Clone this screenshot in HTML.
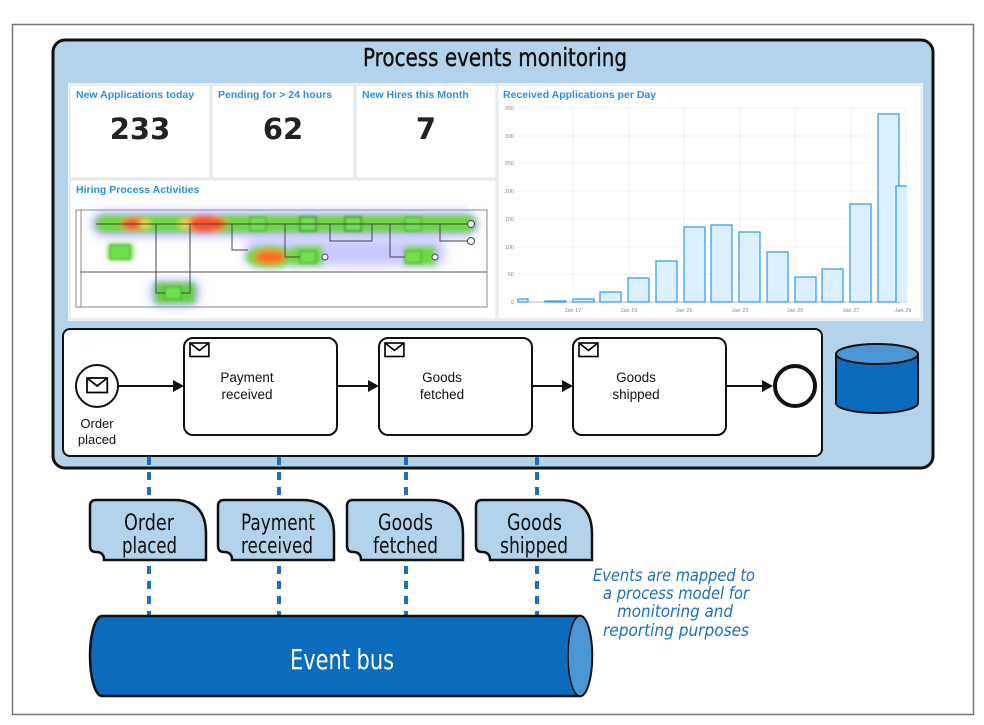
<!DOCTYPE html>
<html><head><meta charset="utf-8"><style>
body{margin:0;background:#fff;}
svg{display:block;font-family:"Liberation Sans",sans-serif;}
</style></head><body>
<svg width="984" height="725" viewBox="0 0 984 725" xmlns="http://www.w3.org/2000/svg">
<defs>
<filter id="b1" x="-50%" y="-50%" width="200%" height="200%"><feGaussianBlur stdDeviation="3"/></filter>
<filter id="b3" x="-50%" y="-50%" width="200%" height="200%"><feGaussianBlur stdDeviation="5"/></filter>
<filter id="b2" x="-50%" y="-50%" width="200%" height="200%"><feGaussianBlur stdDeviation="1"/></filter>
<g id="env"><rect x="0" y="0" width="14" height="10" fill="#fff" stroke="#000" stroke-width="1.2"/><path d="M0 0 L7 5.5 L14 0" fill="none" stroke="#000" stroke-width="1.2"/></g>
<path id="ev" d="M6 0 H84 Q116 0 116 34 V60 H14 Q14 52 6 52 Q0 52 0 46 V6 Q0 0 6 0 Z"/>
</defs>
<rect x="12.5" y="24.5" width="961" height="690" fill="#fff" stroke="#777" stroke-width="1.5"/>
<rect x="53" y="40" width="880" height="428" rx="12" fill="#b2d3ea" stroke="#111" stroke-width="3"/>
<text x="363" y="66" font-size="25" fill="#111" stroke="#111" stroke-width="0.4" textLength="264" lengthAdjust="spacingAndGlyphs" style="font-family:'DejaVu Sans','Liberation Sans',sans-serif">Process events monitoring</text>
<rect x="68" y="83" width="855" height="238" fill="#eef2f5"/>
<g fill="#fff" stroke="#e3e6ea">
<rect x="70" y="85" width="140" height="93"/>
<rect x="212" y="85" width="142" height="93"/>
<rect x="356" y="85" width="140" height="93"/>
<rect x="70" y="180" width="426" height="139"/>
<rect x="498" y="85" width="423" height="234"/>
</g>
<g fill="#2a8fe0" font-size="10.5" font-weight="bold">
<text x="76" y="98">New Applications today</text>
<text x="218" y="98">Pending for &gt; 24 hours</text>
<text x="362" y="98">New Hires this Month</text>
<text x="76" y="193">Hiring Process Activities</text>
<text x="503" y="98">Received Applications per Day</text>
</g>
<g fill="#222" font-size="29" font-weight="bold" text-anchor="middle" style="font-family:'DejaVu Sans','Liberation Sans',sans-serif">
<text x="140" y="139">233</text><text x="283" y="139">62</text><text x="426" y="139">7</text>
</g>
<rect x="76" y="210" width="411" height="97" fill="#fff" stroke="#888"/>
<line x1="80" y1="272" x2="487" y2="272" stroke="#555"/>
<line x1="81" y1="210" x2="81" y2="307" stroke="#888"/>
<g filter="url(#b3)">
<rect x="92" y="212" width="385" height="24" rx="12" fill="#9090ff" opacity="0.7"/>
<rect x="245" y="240" width="200" height="26" rx="10" fill="#9090ff" opacity="0.5"/>
<rect x="150" y="280" width="50" height="26" rx="10" fill="#9090ff" opacity="0.6"/>
</g>
<g filter="url(#b1)">
<rect x="96" y="216" width="380" height="16" rx="8" fill="#6dd83a"/>
<ellipse cx="135" cy="224" rx="14" ry="6" fill="#ff5020"/>
<ellipse cx="205" cy="224" rx="22" ry="8" fill="#ff5020"/>
<ellipse cx="145" cy="224" rx="6" ry="4" fill="#f8e040"/>
<ellipse cx="185" cy="224" rx="6" ry="4" fill="#f8e040"/>
<ellipse cx="270" cy="257" rx="24" ry="11" fill="#6dd83a"/>
<ellipse cx="270" cy="257" rx="16" ry="7" fill="#ff6a28"/>
<rect x="108" y="244" width="25" height="16" fill="#6dd83a"/>
<rect x="155" y="283" width="40" height="20" fill="#60d040"/>
<rect x="405" y="247" width="30" height="18" fill="#6dd83a"/>
<rect x="292" y="247" width="30" height="18" fill="#6dd83a"/>
</g>
<g filter="url(#b2)" fill="#6ee04a" stroke="#334">
<rect x="250" y="217" width="16" height="14" stroke-width="0.5"/>
<rect x="300" y="217" width="16" height="14" stroke-width="1"/>
<rect x="345" y="217" width="16" height="14" stroke-width="1"/>
<rect x="405" y="217" width="16" height="14" stroke-width="0.5"/>
<rect x="110" y="245" width="20" height="14" stroke-width="0.5"/>
<rect x="300" y="251" width="16" height="12" stroke-width="0.5"/>
<rect x="405" y="251" width="16" height="12" stroke-width="0.5"/>
<rect x="165" y="287" width="16" height="12" stroke-width="0.5"/>
</g>
<g fill="none" stroke="#445" stroke-width="1">
<path d="M156 224 V293 H165 M181 293 H190 V224"/>
<path d="M232 224 V250 H248"/>
<path d="M285 224 V257 H300 M330 224 V241 H372 V224 M390 224 V257 H405 M440 224 V241 H470"/>
<line x1="96" y1="224" x2="470" y2="224"/>
<circle cx="471" cy="224" r="3.5" fill="#fff"/><circle cx="471" cy="241" r="3.5" fill="#fff"/>
<circle cx="435" cy="257" r="3" fill="#fff"/><circle cx="325" cy="257" r="3" fill="#fff"/>
</g>
<g stroke="#eceff2" stroke-width="1">
<line x1="518" y1="108" x2="907" y2="108"/><line x1="518" y1="136" x2="907" y2="136"/><line x1="518" y1="163" x2="907" y2="163"/><line x1="518" y1="191" x2="907" y2="191"/><line x1="518" y1="219" x2="907" y2="219"/><line x1="518" y1="247" x2="907" y2="247"/><line x1="518" y1="274" x2="907" y2="274"/>
<line x1="573" y1="108" x2="573" y2="302"/><line x1="629" y1="108" x2="629" y2="302"/><line x1="684" y1="108" x2="684" y2="302"/><line x1="740" y1="108" x2="740" y2="302"/><line x1="795" y1="108" x2="795" y2="302"/><line x1="851" y1="108" x2="851" y2="302"/><line x1="906" y1="108" x2="906" y2="302"/>
</g>
<line x1="518" y1="302" x2="907" y2="302" stroke="#bbb"/>
<g fill="#888" font-size="5.5" text-anchor="end">
<text x="514" y="110">350</text><text x="514" y="138">300</text><text x="514" y="165">250</text><text x="514" y="193">200</text><text x="514" y="221">150</text><text x="514" y="249">100</text><text x="514" y="276">50</text><text x="514" y="304">0</text>
</g>
<g fill="#888" font-size="5.5" text-anchor="middle">
<text x="573" y="312">Jan 17</text><text x="629" y="312">Jan 19</text><text x="684" y="312">Jan 21</text><text x="740" y="312">Jan 23</text><text x="795" y="312">Jan 25</text><text x="851" y="312">Jan 27</text><text x="903" y="312">Jan 29</text>
</g>
<g fill="#dcefff" stroke="#3aa0ec" stroke-width="1.3">
<rect x="518" y="299" width="10" height="3"/>
<rect x="545" y="301" width="21" height="1"/>
<rect x="573" y="299" width="21" height="3"/>
<rect x="600" y="292" width="21" height="10"/>
<rect x="628" y="278" width="21" height="24"/>
<rect x="656" y="261" width="21" height="41"/>
<rect x="684" y="227" width="21" height="75"/>
<rect x="711" y="225" width="21" height="77"/>
<rect x="739" y="232" width="21" height="70"/>
<rect x="767" y="252" width="21" height="50"/>
<rect x="795" y="277" width="21" height="25"/>
<rect x="822" y="269" width="21" height="33"/>
<rect x="850" y="204" width="21" height="98"/>
<rect x="878" y="114" width="21" height="188"/>
<rect x="896" y="186" width="11" height="116" stroke="none"/><path d="M896 302 V186 H907"/>
</g>
<rect x="63" y="329" width="759" height="127" rx="7" fill="#fff" stroke="#111" stroke-width="2"/>
<circle cx="97" cy="386" r="21" fill="#fff" stroke="#111" stroke-width="2"/>
<use href="#env" transform="translate(87,378) scale(1.45)"/>
<g font-size="13" fill="#111" text-anchor="middle">
<text x="97" y="428">Order</text><text x="97" y="444">placed</text>
</g>
<g fill="#fff" stroke="#111" stroke-width="2">
<rect x="184" y="338" width="153" height="97" rx="9"/>
<rect x="379" y="338" width="153" height="97" rx="9"/>
<rect x="573" y="338" width="153" height="97" rx="9"/>
</g>
<use href="#env" transform="translate(190,343) scale(1.35)"/>
<use href="#env" transform="translate(385,343) scale(1.35)"/>
<use href="#env" transform="translate(579,343) scale(1.35)"/>
<g font-size="13.5" fill="#111" text-anchor="middle">
<text x="247" y="382">Payment</text><text x="247" y="399">received</text>
<text x="442" y="382">Goods</text><text x="442" y="399">fetched</text>
<text x="636" y="382">Goods</text><text x="636" y="399">shipped</text>
</g>
<g stroke="#111" stroke-width="2">
<line x1="118" y1="386" x2="176" y2="386"/><line x1="337" y1="386" x2="371" y2="386"/><line x1="532" y1="386" x2="565" y2="386"/><line x1="726" y1="386" x2="764" y2="386"/>
</g>
<g fill="#111">
<path d="M184 386 L173 380 V392Z"/><path d="M379 386 L368 380 V392Z"/><path d="M573 386 L562 380 V392Z"/><path d="M773 386 L762 380 V392Z"/>
</g>
<circle cx="795" cy="386" r="20" fill="#fff" stroke="#111" stroke-width="4"/>
<path d="M836 354 V403 A41 10 0 0 0 918 403 V354" fill="#0b6bbd" stroke="#111" stroke-width="2"/>
<ellipse cx="877" cy="354" rx="41" ry="10" fill="#4a97d4" stroke="#111" stroke-width="2"/>
<g stroke="#1b6fbe" stroke-width="4" stroke-dasharray="8 7">
<line x1="149" y1="457" x2="149" y2="500"/><line x1="279" y1="457" x2="279" y2="500"/><line x1="406" y1="457" x2="406" y2="500"/><line x1="537" y1="457" x2="537" y2="500"/>
<line x1="149" y1="566" x2="149" y2="616"/><line x1="279" y1="566" x2="279" y2="616"/><line x1="406" y1="566" x2="406" y2="616"/><line x1="537" y1="566" x2="537" y2="616"/>
</g>
<g fill="#b2d3ea" stroke="#111" stroke-width="2.5">
<use href="#ev" transform="translate(90,500)"/>
<use href="#ev" transform="translate(218,500)"/>
<use href="#ev" transform="translate(347,500)"/>
<use href="#ev" transform="translate(476,500)"/>
</g>
<g font-size="22" fill="#111" style="font-family:'DejaVu Sans','Liberation Sans',sans-serif">
<text x="124" y="530" textLength="50" lengthAdjust="spacingAndGlyphs">Order</text><text x="122" y="553" textLength="55" lengthAdjust="spacingAndGlyphs">placed</text>
<text x="241" y="530" textLength="74" lengthAdjust="spacingAndGlyphs">Payment</text><text x="241" y="553" textLength="72" lengthAdjust="spacingAndGlyphs">received</text>
<text x="378" y="530" textLength="55" lengthAdjust="spacingAndGlyphs">Goods</text><text x="373" y="553" textLength="65" lengthAdjust="spacingAndGlyphs">fetched</text>
<text x="507" y="530" textLength="55" lengthAdjust="spacingAndGlyphs">Goods</text><text x="500" y="553" textLength="68" lengthAdjust="spacingAndGlyphs">shipped</text>
</g>
<path d="M102 616 H580 A12 40 0 0 1 580 696 H102 A12 40 0 0 1 102 616 Z" fill="#0b6bbd" stroke="#111" stroke-width="2.5"/>
<path d="M580 616 A12 40 0 0 0 580 696 A12 40 0 0 0 580 616 Z" fill="#4a97d4" stroke="#111" stroke-width="1.5"/>
<text x="290" y="669" font-size="28" fill="#fff" textLength="104" lengthAdjust="spacingAndGlyphs" style="font-family:'DejaVu Sans','Liberation Sans',sans-serif">Event bus</text>
<g font-size="17" fill="#1b6fbe" font-style="italic" style="font-family:'DejaVu Sans','Liberation Sans',sans-serif">
<text x="593" y="581" textLength="162" lengthAdjust="spacingAndGlyphs">Events are mapped to</text>
<text x="603" y="599" textLength="146" lengthAdjust="spacingAndGlyphs">a process model for</text>
<text x="617" y="617" textLength="116" lengthAdjust="spacingAndGlyphs">monitoring and</text>
<text x="603" y="636" textLength="146" lengthAdjust="spacingAndGlyphs">reporting purposes</text>
</g>
</svg>
</body></html>
